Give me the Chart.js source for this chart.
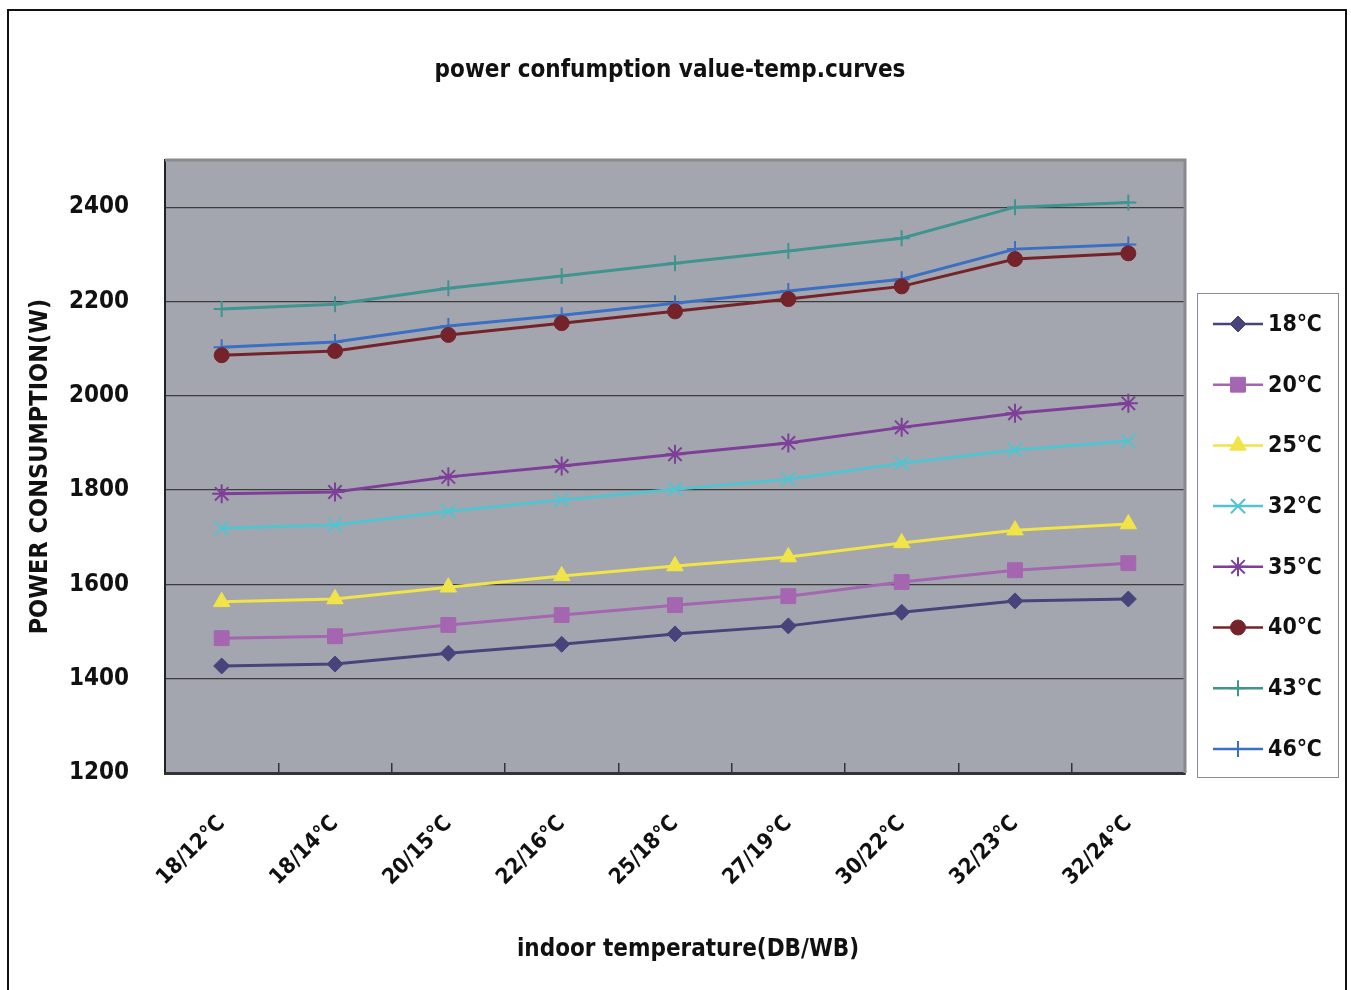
<!DOCTYPE html>
<html>
<head>
<meta charset="utf-8">
<script src="https://cdn.jsdelivr.net/npm/chart.js@4.4.1/dist/chart.umd.min.js"></script>
<style>
    html, body { margin: 0; padding: 0; background: #fff; }
    #wrap { position: relative; width: 1351px; height: 990px; overflow: hidden; }
    #wrap canvas { position: absolute; left: 0; top: 0; }
    #frame { position: absolute; left: 7px; top: 9px; width: 1340px; height: 1010px;
             border: 2px solid #111; box-sizing: border-box; pointer-events: none; }
</style>
</head>
<body>
<div id="wrap">
    <canvas id="chart" width="1351" height="990"></canvas>
    <div id="frame"></div>
</div>
<script>
// categorías (DB/WB interior) y series por temperatura exterior
const categories = ['18/12℃', '18/14℃', '20/15℃', '22/16℃', '25/18℃', '27/19℃', '30/22℃', '32/23℃', '32/24℃'];
const seriesNames = ['18℃', '20℃', '25℃', '32℃', '35℃', '40℃', '43℃', '46℃'];

const t18 = [1427, 1431, 1454, 1473, 1495, 1512, 1541, 1565, 1569];
const t20 = [1486, 1490, 1514, 1535, 1556, 1575, 1605, 1630, 1645];
const t25 = [1563, 1569, 1594, 1618, 1639, 1658, 1688, 1715, 1728];
const t32 = [1719, 1726, 1755, 1779, 1802, 1823, 1857, 1885, 1904];
const t35 = [1792, 1796, 1828, 1851, 1876, 1900, 1933, 1963, 1984];
const t40 = [2086, 2095, 2129, 2154, 2179, 2205, 2232, 2290, 2302];
const t43 = [2184, 2194, 2228, 2254, 2281, 2307, 2334, 2400, 2410];
const t46 = [2103, 2114, 2148, 2171, 2196, 2222, 2247, 2311, 2321];

const yTicks = [1200, 1400, 1600, 1800, 2000, 2200, 2400];

const chartTitle = 'power confumption value-temp.curves';
const xTitle = 'indoor temperature(DB/WB)';
const yTitle = 'POWER CONSUMPTION(W)';

const FONT = "'Liberation Sans Narrow', 'Arial Narrow', 'DejaVu Sans Condensed', sans-serif";
Chart.defaults.font.family = FONT;
Chart.defaults.color = '#111';

function ds(label, data, color, style, radius, bw) {
    return {
        label, data,
        borderColor: color,
        backgroundColor: color,
        borderWidth: 3,
        pointStyle: style,
        pointRadius: radius,
        pointBorderWidth: bw,
        pointBackgroundColor: color,
        pointBorderColor: color,
        tension: 0,
    };
}

const seriesData = [t18, t20, t25, t32, t35, t40, t43, t46];
const colors = ['#46447a', '#a466b0', '#f0e448', '#52c3cf', '#7e3f98', '#74232a', '#3f9490', '#3a6fc4'];
const styles = ['rectRot', 'rect', 'triangle', 'crossRot', 'star', 'circle', 'cross', 'cross'];
const radii = [8, 10.5, 9.5, 10, 9.5, 7.5, 8, 8];
const bws = [1, 1, 1, 2, 2, 1, 2, 2];

// fondo gris del área de trazado + bordes + textos de título
const plotBg = {
    id: 'plotBg',
    beforeDraw(chart) {
        const { ctx, chartArea: a } = chart;
        ctx.save();
        ctx.fillStyle = '#a4a6af';
        ctx.fillRect(a.left, a.top, a.right - a.left, a.bottom - a.top);
        ctx.fillStyle = '#111';
        ctx.textAlign = 'center';
        ctx.textBaseline = 'middle';
        ctx.font = `bold 24px ${FONT}`;
        ctx.fillText(chartTitle, 670, 71);
        ctx.fillText(xTitle, 688, 950);
        ctx.restore();
    },
    beforeDatasetsDraw(chart) {
        const { ctx, chartArea: a } = chart;
        ctx.save();
        ctx.strokeStyle = '#8a8a8e';
        ctx.lineWidth = 3;
        ctx.beginPath();
        ctx.moveTo(a.left, a.top);
        ctx.lineTo(a.right, a.top);
        ctx.lineTo(a.right, a.bottom);
        ctx.stroke();
        ctx.restore();
    },
};

// leyenda en caja a la derecha: línea + marcador + texto
const boxLegend = {
    id: 'boxLegend',
    afterDraw(chart) {
        const { ctx } = chart;
        const x0 = 1197.5, y0 = 293.5, w = 141, h = 484;
        ctx.save();
        ctx.strokeStyle = '#8c8c8c';
        ctx.lineWidth = 1;
        ctx.strokeRect(x0, y0, w, h);
        chart.data.datasets.forEach((d, i) => {
            const y = 324 + i * 60.7;
            ctx.strokeStyle = d.borderColor;
            ctx.fillStyle = d.borderColor;
            ctx.lineWidth = 2.5;
            ctx.beginPath();
            ctx.moveTo(1213, y);
            ctx.lineTo(1263, y);
            ctx.stroke();
            ctx.lineWidth = d.pointBorderWidth;
            Chart.helpers.drawPoint(ctx, {
                pointStyle: d.pointStyle, radius: d.pointRadius,
                rotation: 0, borderWidth: d.pointBorderWidth,
            }, 1238, y);
            ctx.fillStyle = '#111';
            ctx.font = `bold 23px ${FONT}`;
            ctx.textAlign = 'left';
            ctx.textBaseline = 'middle';
            ctx.fillText(d.label, 1268, y + 1);
        });
        ctx.restore();
    },
};

new Chart(document.getElementById('chart'), {
    type: 'line',
    data: {
        labels: categories,
        datasets: seriesNames.map((n, i) => ds(n, seriesData[i], colors[i], styles[i], radii[i], bws[i])),
    },
    options: {
        responsive: false,
        animation: false,
        devicePixelRatio: 1,
        layout: { padding: { left: 0, right: 166, top: 160, bottom: 0 } },
        plugins: {
            legend: { display: false },
            tooltip: { enabled: false },
            title: { display: false },
        },
        scales: {
            x: {
                offset: true,
                afterFit: (s) => { s.height = 217; },
                ticks: {
                    autoSkip: false,
                    maxRotation: 45,
                    minRotation: 45,
                    padding: 48,
                    color: '#111',
                    font: { size: 22, weight: 'bold' },
                },
                grid: {
                    offset: true,
                    drawOnChartArea: false,
                    tickLength: -10,
                    color: '#333',
                    lineWidth: 1.5,
                },
                border: { display: true, color: '#333', width: 3 },
            },
            y: {
                min: 1200,
                max: 2500,
                afterFit: (s) => { s.width = 165; },
                afterBuildTicks: (s) => { s.ticks = yTicks.map((v) => ({ value: v })); },
                ticks: {
                    color: '#111',
                    padding: 36,
                    font: { size: 24, weight: 'bold' },
                    callback: (v) => String(v),
                },
                grid: { color: '#3c3c3c', lineWidth: 1.3, drawTicks: false },
                border: { display: true, color: '#222', width: 2 },
                title: {
                    display: true,
                    text: yTitle,
                    color: '#111',
                    font: { size: 25, weight: 'bold' },
                    padding: { top: 25, bottom: 25 },
                },
            },
        },
    },
    plugins: [plotBg, boxLegend],
});
</script>
</body>
</html>
